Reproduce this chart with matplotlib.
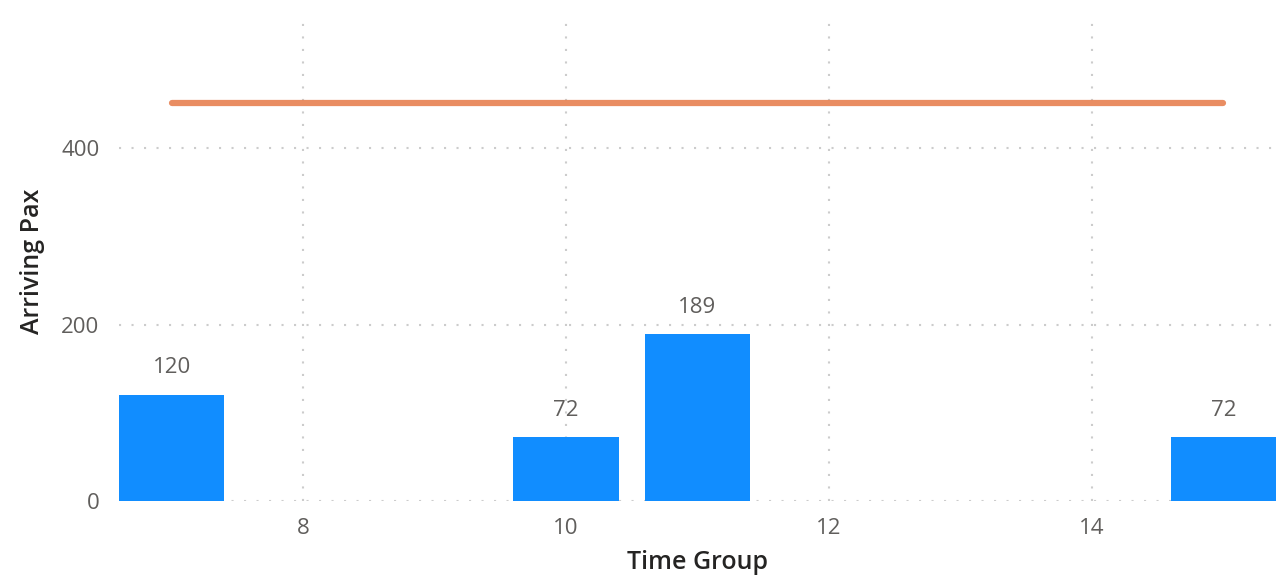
import matplotlib.pyplot as plt

# Arriving passengers by time group
time_groups = [7, 10, 11, 15]
arriving_pax = [120, 72, 189, 72]

# Reference line
line_x = [7, 15]
line_y = [451, 451]

plt.rcParams['font.family'] = ['Open Sans', 'DejaVu Sans']

fig = plt.figure(figsize=(12.81, 5.83), dpi=100)
ax = fig.add_axes([119 / 1281, 1 - 501 / 583, (1276 - 119) / 1281, (501 - 22) / 583])

bars = ax.bar(time_groups, arriving_pax, width=0.8, color='#118DFF', zorder=3)
ax.plot(line_x, line_y, color='#E8875A', linewidth=4.5, solid_capstyle='round',
        alpha=0.95, zorder=4)

for x, v in zip(time_groups, arriving_pax):
    ax.annotate(f"{v}", (x, v), xytext=(0, 12), textcoords='offset points',
                ha='center', va='bottom', fontsize=16, color='#605E5C')

ax.set_xlim(6.6, 15.4)
ax.set_ylim(0, 543)
ax.set_xticks([8, 10, 12, 14])
ax.set_yticks([0, 200, 400])

ax.grid(True, color='#CCCCCC', linestyle=(0, (1, 5)), linewidth=1.5, zorder=0)
ax.set_axisbelow(True)
for spine in ax.spines.values():
    spine.set_visible(False)
ax.tick_params(axis='y', length=0, labelsize=16, labelcolor='#605E5C', pad=14)
ax.tick_params(axis='x', length=0, labelsize=16, labelcolor='#605E5C', pad=12)

ax.set_xlabel("Time Group", fontsize=18, color='#252423', fontweight='semibold', labelpad=8)
ax.set_ylabel("Arriving Pax", fontsize=18, color='#252423', fontweight='semibold', labelpad=12)

fig.savefig("out.png", dpi=100)
